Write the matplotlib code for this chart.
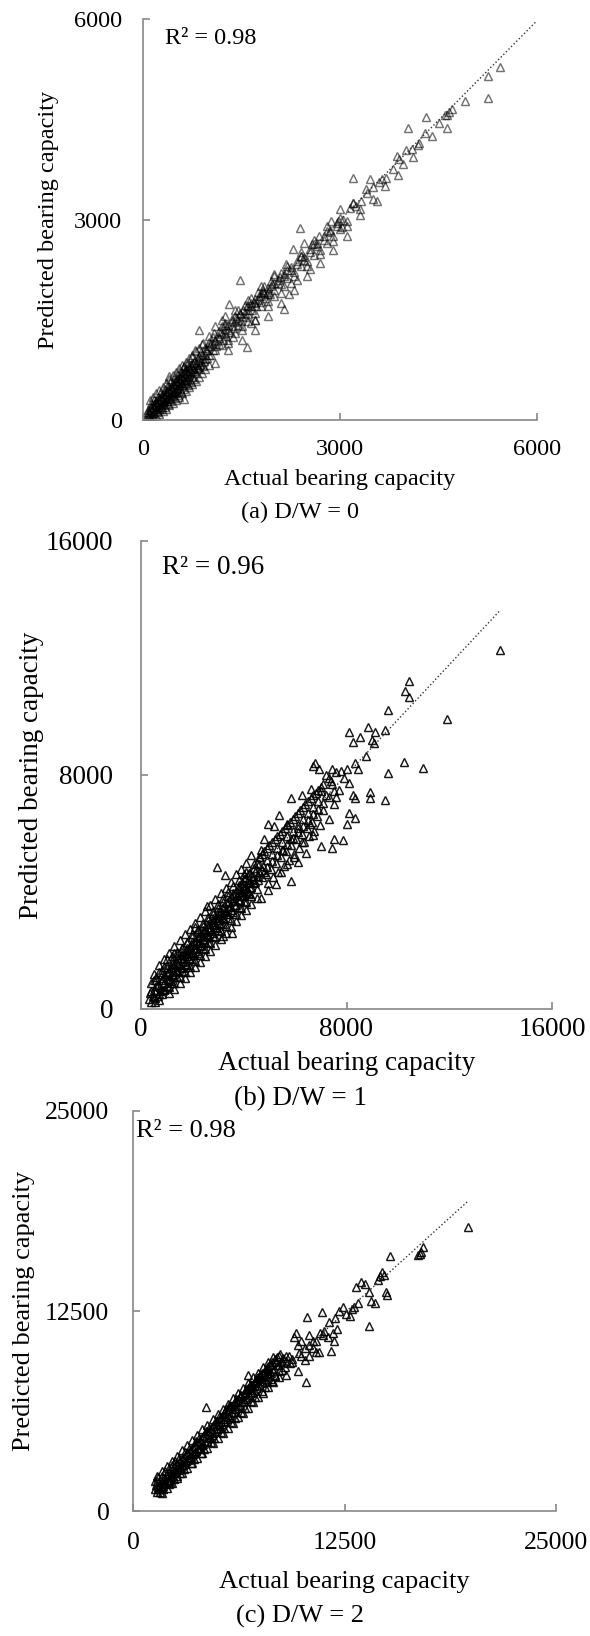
import numpy as np
import matplotlib
matplotlib.use("Agg")
import matplotlib.pyplot as plt

plt.rcParams['font.family'] = ['Liberation Serif', 'DejaVu Serif']

W, H = 590, 1636

# (actual, predicted) pairs
pts_a = [
    (70, 90), (80, 150), (90, 60), (110, 120), (120, 200), (130, 80), (150, 160), (160, 240), (170, 110),
    (190, 200), (200, 280), (210, 140), (230, 240), (240, 320), (250, 170), (270, 280), (280, 360), (290, 200),
    (310, 320), (320, 400), (330, 240), (350, 360), (360, 440), (370, 280), (390, 400), (400, 490), (410, 320),
    (430, 440), (440, 530), (450, 360), (470, 480), (480, 570), (490, 400), (510, 520), (520, 610), (530, 440),
    (550, 560), (560, 650), (570, 480), (590, 600), (600, 700), (610, 520), (630, 640), (640, 740), (650, 560),
    (670, 690), (680, 790), (690, 600), (710, 730), (730, 830), (740, 640), (760, 770), (780, 870), (800, 700),
    (820, 820), (840, 920), (860, 760), (880, 870), (900, 970), (920, 810),
    (60, 120), (100, 90), (100, 180), (140, 130), (140, 220), (180, 160), (180, 250), (220, 200), (220, 290),
    (260, 230), (260, 330), (300, 270), (300, 370), (340, 310), (340, 410), (380, 350), (380, 450), (420, 390),
    (420, 500), (460, 420), (460, 540), (500, 460), (500, 590), (540, 510), (540, 630), (580, 550), (580, 680),
    (620, 590), (620, 720), (660, 640), (660, 760), (700, 680), (700, 800), (740, 720), (750, 850), (780, 760),
    (790, 900), (830, 800), (850, 960), (870, 840), (890, 1010), (930, 880), (940, 1080), (980, 930), (1000, 1160),
    (1030, 980), (1070, 1240), (1100, 1050), (1150, 1330), (1200, 1120), (1250, 1420), (1300, 1200), (1350, 1510),
    (1400, 1300), (1450, 1650), (1500, 1400), (1550, 1720), (1600, 1480), (1650, 1820), (1700, 1600), (1750, 1920),
    (1800, 1700), (1850, 2000), (1900, 1780), (1950, 2080), (2000, 1860), (2100, 2200), (2150, 2000), (2200, 2300),
    (2300, 2150), (2400, 2460), (2500, 2300), (2600, 2640), (2700, 2480), (2800, 2830), (2900, 2680), (3000, 3020),
    (3100, 2900), (3200, 3240), (3300, 3060), (3400, 3450), (3500, 3300), (3700, 3620), (3900, 3900), (4300, 4300),
    (4600, 4560),
    (60, 60), (90, 110), (120, 140), (150, 100), (150, 200), (180, 190), (200, 230), (210, 180), (240, 270),
    (250, 220), (270, 310), (290, 260), (300, 320), (320, 280), (330, 360), (350, 310), (370, 390), (380, 330),
    (400, 420), (410, 380), (440, 460), (450, 420), (470, 520), (480, 450), (500, 540), (520, 480), (530, 570),
    (550, 520), (570, 620), (580, 560), (600, 650), (620, 600), (640, 690), (650, 620), (670, 720), (690, 660),
    (710, 770), (720, 700), (750, 800), (770, 730), (800, 860), (820, 780), (850, 900), (870, 820), (900, 930),
    (940, 980), (980, 1040), (1020, 1100), (1060, 1130), (1100, 1180), (1150, 1220), (1200, 1280), (1250, 1300),
    (1300, 1350), (1350, 1400), (1400, 1460), (1450, 1500), (1500, 1560), (1550, 1600), (1600, 1650), (1650, 1700),
    (1700, 1750), (1750, 1800), (1800, 1850), (1850, 1900), (1900, 1920), (1950, 2000), (2050, 2050), (2150, 2150),
    (2250, 2250), (2350, 2330), (2450, 2400), (2550, 2560), (2650, 2650), (2750, 2750), (2850, 2850), (2950, 2950),
    (1100, 1400), (1200, 1500), (1300, 1150), (1400, 1650), (1500, 1350), (1600, 1800), (1700, 1500), (1800, 2000),
    (1900, 1700), (2000, 2150), (2100, 1900), (1250, 1550), (1650, 1450), (2250, 2050), (2450, 2650), (2350, 2100),
    (100, 300), (150, 350), (200, 400), (250, 450), (300, 500), (350, 560), (400, 620), (450, 680), (500, 720),
    (550, 780), (600, 820), (650, 870), (700, 930), (750, 980), (800, 1030), (850, 1080), (900, 1130),
    (200, 60), (250, 90), (300, 130), (350, 170), (400, 220), (450, 260), (500, 300), (550, 350), (600, 400),
    (650, 440), (700, 490), (750, 540), (800, 590), (850, 640), (900, 700), (950, 760), (1000, 820),
    (120, 250), (170, 300), (230, 350), (280, 420), (330, 470), (380, 520), (430, 580), (480, 640), (530, 690),
    (580, 740), (630, 790), (680, 850), (230, 120), (280, 160), (330, 200), (380, 240), (430, 290), (480, 330),
    (530, 380), (580, 420), (630, 470), (680, 520), (730, 570), (780, 620),
    (1000, 1250), (1100, 850), (1200, 1400), (1300, 1050), (1400, 1550), (1500, 1200), (1600, 1700), (1700, 1350),
    (1800, 1900), (1900, 1550), (2000, 2050), (2100, 1750), (2200, 2250), (2300, 1950), (2400, 2450), (2500, 2150),
    (2600, 2700), (2700, 2350), (2800, 2900), (2900, 2550), (3000, 3150), (3100, 2750),
    (950, 920), (960, 1040), (990, 1100), (1010, 980), (1040, 1150), (1060, 1040), (1090, 1200), (1110, 1100),
    (1140, 1260), (1160, 1140), (1190, 1310), (1220, 1200), (1250, 1360), (1270, 1260), (1300, 1420), (1330, 1310),
    (1360, 1480), (1380, 1370), (1410, 1530), (1440, 1420), (1470, 1590), (1490, 1480), (1520, 1640), (1550, 1540),
    (1580, 1700), (1600, 1590), (1640, 1750), (1660, 1650), (1700, 1810), (1720, 1700), (1760, 1860), (1790, 1760),
    (1830, 1920), (1860, 1820), (1900, 1980), (1930, 1880), (1970, 2040), (2000, 1950),
    (2050, 2100), (2100, 2040), (2150, 2180), (2200, 2120), (2250, 2290), (2300, 2220), (2350, 2380), (2400, 2300),
    (2450, 2440), (2500, 2380), (2550, 2520), (2600, 2470), (2650, 2600), (2700, 2550), (2750, 2700), (2800, 2650),
    (2850, 2810), (2900, 2760), (2950, 2900), (3000, 2860), (3050, 3000), (3100, 2980), (3250, 3200), (3300, 3150),
    (3500, 3480), (3600, 3560), (3800, 3750), (4100, 4050), (4200, 4150), (4500, 4450), (4700, 4650),
    (395, 653), (624, 307), (624, 802), (739, 950), (796, 1049), (854, 1346), (911, 1148), (1083, 1297),
    (1255, 1445), (1369, 1247), (1587, 1099), (1312, 1742), (1484, 1594), (1713, 1495), (1685, 1767), (1484, 2089),
    (1828, 1940), (1885, 1891), (2143, 1668), (2229, 1891), (2000, 2188), (2086, 2138), (2172, 2336), (2544, 2262),
    (2286, 2559), (2401, 2510), (2384, 2866), (2573, 2633), (2687, 2757), (2859, 2980), (2974, 2980), (3031, 2881),
    (3146, 3178), (3203, 3252), (3318, 3277), (3404, 3400), (3192, 3623), (3461, 3599), (3645, 3599), (3690, 3500),
    (3558, 3277), (3879, 3673), (3960, 3836), (3862, 3945), (4000, 4044), (4108, 3930), (4189, 4118), (4406, 4242),
    (4034, 4376), (4309, 4539), (4636, 4564), (4664, 4613), (4624, 4366), (4905, 4772), (5248, 4811), (5254, 5148),
    (5438, 5282),
]

pts_b = [
    (300, 350), (350, 550), (400, 250), (450, 450), (500, 650), (550, 380), (600, 600), (650, 820), (700, 520),
    (750, 760), (800, 980), (850, 650), (900, 900), (950, 1130), (1000, 800), (1050, 1040), (1100, 1280),
    (1150, 950), (1200, 1200), (1250, 1430), (1300, 1100), (1350, 1350), (1400, 1580), (1450, 1250), (1500, 1500),
    (1550, 1730), (1600, 1400), (1650, 1650), (1700, 1880), (1750, 1550), (1800, 1800), (1850, 2030), (1900, 1700),
    (1950, 1950), (2000, 2180), (2050, 1850), (2100, 2100), (2150, 2330), (2200, 2000), (2250, 2250), (2300, 2480),
    (2350, 2150), (2400, 2400), (2450, 2640), (2500, 2300), (2550, 2560), (2600, 2800), (2650, 2450), (2700, 2720),
    (2750, 2960), (2800, 2600), (2850, 2880), (2900, 3120), (2950, 2760), (3000, 3040), (3050, 3280), (3100, 2920),
    (3150, 3200), (3200, 3450), (3250, 3080), (3300, 3360), (3350, 3620), (3400, 3240), (3450, 3520), (3500, 3800),
    (3550, 3400), (3600, 3700), (3650, 3980), (3700, 3560), (3750, 3880), (3800, 4150), (3850, 3720), (3900, 4060),
    (3950, 4330), (4000, 3880), (4050, 4240), (4100, 4500), (4150, 4040), (4200, 4400), (4250, 4660), (4300, 4180),
    (4350, 4560), (4400, 4820), (4450, 4330), (700, 1250), (800, 1350), (900, 1450), (1000, 1500),
    (400, 600), (500, 400), (600, 800), (650, 450), (750, 600), (850, 1050), (950, 700), (1000, 1200), (1100, 1000),
    (1150, 1400), (1250, 1150), (1300, 1550), (1400, 1300), (1450, 1700), (1550, 1450), (1600, 1850), (1700, 1600),
    (1750, 2000), (1850, 1750), (1900, 2150), (2000, 1900), (2050, 2300), (2150, 2050), (2200, 2450), (2300, 2200),
    (2350, 2600), (2450, 2350), (2500, 2750), (2600, 2500), (2650, 2900), (2750, 2650), (2800, 3050), (2900, 2800),
    (2950, 3200), (3050, 2950), (3100, 3350), (3200, 3100), (3250, 3500), (3350, 3250), (3400, 3650), (3500, 3400),
    (3550, 3800), (3650, 3550), (3700, 3950), (3800, 3700), (3850, 4100), (3950, 3850), (4000, 4250), (4100, 4000),
    (4150, 4400), (4250, 4150), (4300, 4550), (4400, 4300), (4450, 4700), (4550, 4550), (4600, 4950), (4700, 4750),
    (400, 900), (500, 1000), (600, 1100), (550, 250), (700, 300), (800, 500), (900, 650), (1000, 1700), (1100, 750),
    (1200, 1800), (1300, 900), (1400, 1950), (1500, 1100), (1600, 2100), (1700, 1250), (1800, 2250), (1900, 1450),
    (2000, 2450), (2100, 1650), (2200, 2650), (2300, 1850), (2400, 2850), (2500, 2050), (2600, 3050), (2700, 2250),
    (2800, 3250), (2900, 2450), (3000, 3450), (3100, 2650), (3200, 3650), (3300, 2850), (3400, 3850), (3500, 3050),
    (3600, 3950), (3700, 3250), (3800, 4250), (3900, 3450), (4000, 4450), (4100, 3650), (4200, 4650), (4300, 3850),
    (4400, 4950), (4500, 4100), (4600, 5200), (1200, 1550), (1400, 1750), (1600, 1950), (1800, 2100), (2000, 2300),
    (2200, 2500), (2400, 2700), (2600, 2900), (2800, 3100), (3000, 3300), (3200, 3500), (3400, 3700), (3600, 3900),
    (3800, 4000), (4000, 4100), (4200, 4300), (1250, 1300), (1450, 1500), (1650, 1700), (1850, 1900), (2050, 2100),
    (2250, 2300), (2450, 2500), (2650, 2700), (2850, 2900), (3050, 3100), (3250, 3300), (3450, 3500), (3650, 3700),
    (3850, 3900), (4050, 4150), (4250, 4350),
    (500, 1200), (700, 1500), (900, 1700), (1100, 1900), (1300, 2150), (1500, 2350), (1700, 2550), (1900, 2750),
    (2100, 2950), (2300, 3150), (2500, 3350), (2700, 3550), (2900, 3750), (3100, 3950), (3300, 4150), (3500, 4350),
    (3700, 4600), (3900, 4800), (4100, 5000), (4300, 5250),
    (1100, 550), (1300, 700), (1500, 900), (1700, 1050), (1900, 1250), (2100, 1450), (2300, 1600), (2500, 1800),
    (2700, 2000), (2900, 2200), (3100, 2400), (3300, 2600), (3500, 2800), (3700, 3000), (3900, 3200), (4100, 3400),
    (4300, 3600), (4500, 3800),
    (600, 1000), (800, 1200), (1000, 1400), (1200, 1650), (1400, 1850), (1600, 2050), (1800, 2300), (2000, 2550),
    (2200, 2750), (2400, 2950), (2600, 3150), (2800, 3350), (3000, 3600), (3200, 3800), (3400, 4000), (3600, 4200),
    (3800, 4400), (4000, 4600),
    (1200, 900), (1400, 1100), (1600, 1300), (1800, 1500), (2000, 1700), (2200, 1900), (2400, 2100), (2600, 2300),
    (2800, 2500), (3000, 2700), (3200, 2900), (3400, 3100), (3600, 3300), (3800, 3500), (4000, 3700), (4200, 3950),
    (4900, 4850), (5100, 5050), (5300, 5250), (5500, 5450), (5700, 5650), (5900, 5850), (6100, 6050), (6300, 6250),
    (6500, 6450), (6700, 6650), (6900, 6850), (7100, 7050), (7300, 7250), (7500, 7450), (4700, 5300), (4900, 5500),
    (5100, 5700), (5300, 5900), (5500, 6100), (5700, 6300), (5900, 6500), (6100, 6700), (6300, 6900), (6500, 7100),
    (6700, 7300), (6900, 7500), (7100, 7700), (7300, 7900), (7600, 8100), (7700, 7500), (7900, 7900), (7200, 8000),
    (4500, 5000), (4550, 4400), (4600, 4700), (4650, 5200), (4700, 4500), (4750, 4900), (4800, 5400), (4850, 4600),
    (4900, 5100), (4950, 4300), (5000, 5600), (5050, 4800), (5100, 5300), (5150, 4500), (5200, 5800), (5250, 5000),
    (5300, 5500), (5350, 4700), (5400, 6000), (5450, 5200), (5500, 5700), (5550, 4900), (5600, 6200), (5650, 5400),
    (5700, 5900), (5750, 5100), (5800, 6400), (5850, 5600), (5900, 6100), (5950, 5300), (6000, 6600), (6050, 5800),
    (6100, 6300), (6150, 5500), (6200, 6800), (6250, 6000), (6300, 6500), (6350, 5700), (6400, 7000), (6450, 6200),
    (6500, 6700), (6550, 5900), (6600, 7200), (6650, 6400), (6700, 6900), (6750, 6100), (6800, 7400), (6850, 6600),
    (6900, 7100), (6950, 6300), (7000, 7600), (7100, 6800), (7200, 7300), (7300, 6500), (7400, 7800), (7500, 7000),
    (13980, 12280), (10438, 11214), (10292, 10863), (10438, 10651), (11902, 9899), (9633, 10212), (10248, 8433),
    (10980, 8232), (9633, 8082), (8096, 9460), (8828, 9648), (9120, 9480), (9516, 9522), (8240, 9140), (8540, 9300),
    (8974, 9209), (9080, 9100), (8755, 8646), (8350, 8400), (8023, 8207), (8430, 8207), (7800, 8140), (7437, 8207),
    (6779, 8395), (6920, 8207), (6700, 8300), (8096, 7731), (8900, 7430), (8901, 7205), (9516, 7142), (8330, 7230),
    (7437, 7700), (6998, 7455), (6630, 7520), (6266, 7330), (5856, 7230), (7580, 7250), (8240, 7300), (8096, 6704),
    (8316, 6516), (8023, 6330), (7510, 5826), (7847, 5764), (6998, 5576), (7437, 5520), (5358, 6641), (5168, 6265),
    (4948, 6330), (5680, 6330), (6120, 6202), (6560, 6330), (5827, 5826), (6266, 5700), (6705, 5952), (4802, 5826),
    (4655, 5450), (5534, 5451), (5973, 5200), (6412, 5330), (5680, 4949), (6120, 5012), (2943, 4849), (3265, 4573),
    (5827, 4386), (5241, 4260), (4948, 4072), (5460, 4700), (4070, 4699), (4360, 4450), (4800, 4700), (3923, 4197),
    (4216, 3947), (4655, 3800), (3557, 2606), (3191, 2506), (2577, 3508), (2094, 2819), (1288, 1905),
]

pts_c = [
    (1300, 1400), (1400, 1200), (1450, 1650), (1600, 1350), (1650, 1850), (1750, 1550), (1850, 2050), (1950, 1750),
    (2050, 2300), (2150, 1950), (2250, 2500), (2350, 2200), (2400, 2750), (2550, 2450), (2600, 2950), (2750, 2650),
    (2800, 3200), (2950, 2850), (3000, 3400), (3150, 3100), (3200, 3650), (3350, 3300), (3400, 3850), (3550, 3550),
    (3600, 4100), (3750, 3750), (3800, 4300), (3950, 3950), (4000, 4550), (4150, 4200), (4200, 4750), (4350, 4400),
    (4400, 5000), (4550, 4650), (4600, 5200), (4750, 4850), (4800, 5450), (4950, 5100), (5000, 5650), (5150, 5300),
    (5200, 5900), (5350, 5550), (5400, 6100), (5550, 5750), (5600, 6350), (5750, 6000), (5800, 6550), (5950, 6200),
    (6000, 6800), (6150, 6450), (6200, 7000), (6350, 6650), (6400, 7250), (6550, 6900), (6600, 7450), (6750, 7100),
    (6800, 7700), (6950, 7350), (7000, 7900), (7150, 7550), (7200, 8150), (7350, 7800), (7400, 8350), (7550, 8000),
    (7600, 8600), (7750, 8250), (7800, 8800), (7950, 8450), (8000, 9050), (8150, 8650), (8200, 9300), (8350, 8900),
    (8400, 9500), (8550, 9100), (8600, 9700), (8750, 9300),
    (1350, 1650), (1450, 1350), (1550, 1800), (1650, 1500), (1750, 2000), (1850, 1700), (1950, 2200), (2050, 1900),
    (2150, 2400), (2250, 2100), (2350, 2650), (2450, 2350), (2550, 2850), (2650, 2550), (2750, 3050), (2850, 2750),
    (2950, 3250), (3050, 2950), (3150, 3500), (3250, 3200), (3350, 3700), (3450, 3400), (3550, 3950), (3650, 3650),
    (3750, 4150), (3850, 3850), (3950, 4400), (4050, 4100), (4150, 4600), (4250, 4300), (4350, 4850), (4450, 4550),
    (4550, 5050), (4650, 4750), (4750, 5300), (4850, 5000), (4950, 5500), (5050, 5200), (5150, 5750), (5250, 5450),
    (5350, 5950), (5450, 5650), (5550, 6200), (5650, 5900), (5750, 6400), (5850, 6100), (5950, 6650), (6050, 6350),
    (6150, 6850), (6250, 6550), (6350, 7100), (6450, 6800), (6550, 7300), (6650, 7000), (6750, 7550), (6850, 7250),
    (6950, 7750), (7050, 7450), (7150, 8000), (7250, 7700), (7350, 8200), (7450, 7900), (7550, 8450), (7650, 8150),
    (7750, 8650), (7850, 8350), (7950, 8900), (8050, 8550), (8150, 9100), (8250, 8750), (8450, 9350), (8650, 9100),
    (8850, 9550), (9050, 9350),
    (1300, 1900), (1500, 2100), (1600, 1200), (1800, 1400), (1900, 2500), (2100, 2700), (2200, 1800), (2400, 2000),
    (2500, 3100), (2700, 3300), (2800, 2400), (3000, 2650), (3100, 3700), (3300, 3900), (3400, 3000), (3600, 3250),
    (3700, 4350), (3900, 4550), (4000, 3650), (4200, 3900), (4300, 5000), (4500, 5200), (4600, 4300), (4800, 4550),
    (4900, 5650), (5100, 5850), (5200, 4950), (5400, 5200), (5500, 6350), (5700, 6550), (5800, 5550), (6000, 5800),
    (6100, 7000), (6300, 7200), (6400, 6200), (6600, 6450), (6700, 7650), (6900, 7850), (7000, 6850), (7200, 7100),
    (7300, 8300), (7500, 8500), (7600, 7500), (7800, 7750), (7900, 8950), (8100, 9150), (8200, 8150), (8400, 8450),
    (8500, 9600), (8700, 9800), (8800, 8800), (9000, 9000), (9200, 9700), (9400, 9300),
    (1400, 2200), (1700, 2500), (2000, 2800), (2300, 3150), (2600, 3450), (2900, 3800), (3200, 4100), (3500, 4450),
    (3800, 4750), (4100, 5100), (4400, 5400), (4700, 5750), (5000, 6050), (5300, 6400), (5600, 6700), (5900, 7050),
    (6200, 7350), (6500, 7700), (6800, 8000), (7100, 8350), (7400, 8650), (7700, 9000), (8000, 9300), (8300, 9650),
    (1700, 1150), (2000, 1450), (2300, 1750), (2600, 2050), (2900, 2350), (3200, 2700), (3500, 3000), (3800, 3300),
    (4100, 3600), (4400, 3950), (4700, 4250), (5000, 4550), (5300, 4900), (5600, 5200), (5900, 5500), (6200, 5850),
    (6500, 6150), (6800, 6450), (7100, 6800), (7400, 7100), (7700, 7400), (8000, 7750), (8300, 8050), (8600, 8350),
    (1500, 1500), (2000, 2100), (2500, 2650), (3000, 3150), (3500, 3750), (4000, 4250), (4500, 4850), (5000, 5350),
    (5500, 5900), (6000, 6450), (6500, 7000), (7000, 7550), (7500, 8100), (8000, 8600),
    (1700, 2200), (2100, 1700), (2300, 2850), (2600, 2200), (1400, 1900),
    (19825, 17738), (17050, 16201), (16940, 16080), (17160, 16480), (16830, 16030), (15207, 15917), (14719, 14947),
    (14608, 14660), (14830, 14780), (14497, 14430), (14941, 13716), (15007, 13480), (13165, 14001), (13498, 14285),
    (13720, 14190), (13942, 13717), (14052, 13126), (14274, 13000), (13054, 12771), (12943, 12650), (12832, 12180),
    (13942, 11541), (12388, 12771), (12166, 12530), (11167, 12464), (10279, 12109), (11944, 12062), (11611, 11820),
    (12055, 11352), (11833, 11116), (11278, 11234), (11056, 11116), (11500, 10880), (11900, 10643), (11678, 9981),
    (9613, 11116), (9502, 10880), (9946, 10643), (10390, 10998), (10612, 10643), (9724, 10406), (10168, 10170),
    (10612, 10170), (9946, 9697), (10390, 9697), (10834, 9933), (11000, 9933), (9724, 8751), (10168, 9460),
    (10212, 8088), (9058, 9697), (8836, 9224), (9280, 9224), (8614, 8751), (9058, 8514), (8392, 8514), (8170, 8278),
    (7948, 8041), (6771, 8514), (7282, 8160), (4329, 6504), (5728, 6551), (9400, 9500), (9800, 9900),
    (10400, 10400), (10800, 10600), (11200, 11000), (12600, 12300), (13300, 13000),
]

# trend line end points (actual, predicted)
trend_a = [(50, 60), (6000, 5975)]
trend_b = [(300, 780), (13950, 13600)]
trend_c = [(1300, 1660), (19825, 19390)]

limits = [6000, 16000, 25000]
r2_text = ["R² = 0.98", "R² = 0.96", "R² = 0.98"]
captions = ["(a) D/W = 0", "(b) D/W = 1", "(c) D/W = 2"]

# panel boxes in pixels: left, top, right, bottom
boxes = [(143, 19, 537, 420), (141, 541, 552, 1009), (133, 1111, 556, 1511)]
tick_fs = [17.5, 19.5, 18.5]
label_fs = [17.5, 19.5, 19]
xpad = [14, 6, 15]
ypad = [15, 20, 17]
r2_pos = [(165, 38), (162, 567), (136, 1131)]
ylab_x = [49, 32, 24]
xlab_y = [480, 1063, 1582]
cap_pos = [(300, 512), (300, 1099), (300, 1616)]
mark_alpha = [0.55, 0.9, 0.9]

fig = plt.figure(figsize=(W / 100, H / 100), dpi=100)

for i, pts in enumerate([pts_a, pts_b, pts_c]):
    l, t, r, b = boxes[i]
    ax = fig.add_axes([l / W, 1 - b / H, (r - l) / W, (b - t) / H])
    xs, ys = np.array(pts).T
    ax.plot(xs, ys, linestyle='none', marker='^', ms=5.8, mfc='none', mec='black',
            mew=1.05, alpha=mark_alpha[i])
    tr = np.array([trend_a, trend_b, trend_c][i]).T
    ax.plot(tr[0], tr[1], linestyle=':', color='#333333', lw=1.0)

    lim = limits[i]
    ax.set_xlim(0, lim)
    ax.set_ylim(0, lim)
    ax.set_xticks([0, lim / 2, lim])
    ax.set_yticks([0, lim / 2, lim])
    ax.set_xticklabels(['0', f'{lim // 2:g}', f'{lim}'])
    ax.set_yticklabels(['0', f'{lim // 2:g}', f'{lim}'])
    for s in ['top', 'right']:
        ax.spines[s].set_visible(False)
    for s in ['left', 'bottom']:
        ax.spines[s].set_color('#888888')
        ax.spines[s].set_linewidth(1.2)
    ax.tick_params(axis='both', direction='in', length=5, width=1.2, color='#888888',
                   labelsize=tick_fs[i])
    ax.tick_params(axis='x', pad=xpad[i])
    ax.tick_params(axis='y', pad=ypad[i])

    fig.text(r2_pos[i][0] / W, 1 - r2_pos[i][1] / H, r2_text[i], fontsize=label_fs[i],
             ha='left', va='center')
    fig.text(ylab_x[i] / W, 1 - ((t + b) / 2) / H, 'Predicted bearing capacity',
             fontsize=label_fs[i], rotation=90, ha='center', va='center')
    fig.text(((l + r) / 2) / W, 1 - xlab_y[i] / H, 'Actual bearing capacity',
             fontsize=label_fs[i], ha='center', va='center')
    fig.text(cap_pos[i][0] / W, 1 - cap_pos[i][1] / H, captions[i],
             fontsize=label_fs[i], ha='center', va='center')

fig.savefig('out.png', dpi=100)
